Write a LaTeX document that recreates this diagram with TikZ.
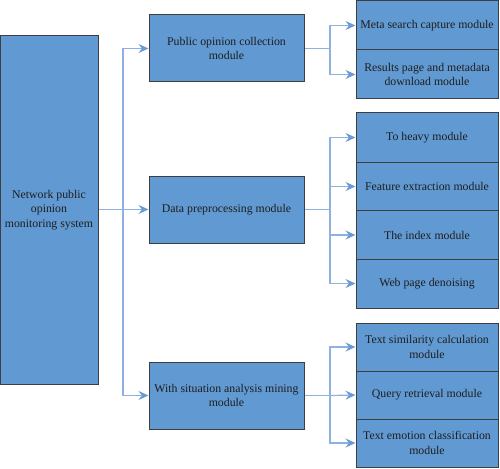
\documentclass[tikz,border=0pt]{standalone}
\usepackage{fontspec}
\setmainfont{Liberation Serif}
\usetikzlibrary{arrows.meta}
\definecolor{boxfill}{HTML}{6199D2}
\definecolor{boxline}{HTML}{3E3E3E}
\definecolor{connline}{HTML}{8EB1E2}
\definecolor{arrowc}{HTML}{6A9BD8}
\definecolor{txt}{HTML}{1E1E1E}
\begin{document}
\begin{tikzpicture}[x=1pt,y=-1pt,
  box/.style={draw=boxline,fill=boxfill,line width=1pt,inner sep=0pt,align=center,
    text=txt,font=\fontsize{11.8}{14.5}\selectfont},
  sysbox/.style={box,minimum width=98pt,minimum height=348pt},
  midbox/.style={box,minimum width=155pt,minimum height=67pt},
  subbox/.style={box,minimum width=142pt,minimum height=49pt},
  conn/.style={draw=connline,line width=1.2pt},
  arr/.style={conn,-{Stealth[length=10pt,width=9pt,inset=3.5pt,color=arrowc]}}]
\useasboundingbox (0,0) rectangle (500,468);
\node[sysbox] (sys) at (49,210) {Network public\\opinion\\monitoring system};
\node[midbox] (m1) at (226.5,48.5) {Public opinion collection\\module};
\node[midbox] (m2) at (226.5,209.5) {Data preprocessing module};
\node[midbox] (m3) at (226.5,395.5) {With situation analysis mining\\module};
\node[subbox] (r11) at (427,25.5) {Meta search capture module};
\node[subbox] (r12) at (427,74.5) {Results page and metadata\\download module};
\node[subbox] (r21) at (427,137.5) {To heavy module};
\node[subbox] (r22) at (427,186.5) {Feature extraction module};
\node[subbox] (r23) at (427,235) {The index module};
\node[subbox] (r24) at (427,283.5) {Web page denoising};
\node[subbox,minimum height=48pt] (r31) at (427,347) {Text similarity calculation\\module};
\node[subbox,minimum height=48pt] (r32) at (427,395) {Query retrieval module};
\node[subbox,minimum height=48pt] (r33) at (427,443) {Text emotion classification\\module};
\coordinate (j0) at (123,210);
\coordinate (j1) at (330,48.5);
\coordinate (j2) at (330,209.5);
\coordinate (j3) at (330,395.5);
\draw[arr] (sys.east |- m2.west) -- (m2.west);
\draw[arr] (j0) |- (m1.west);
\draw[arr] (j0) |- (m3.west);
\draw[conn] (m1.east) -- (j1);
\draw[conn] (m2.east) -- (j2);
\draw[conn] (m3.east) -- (j3);
\draw[arr] (j1) |- (r11.west);
\draw[arr] (j1) |- (r12.west);
\draw[arr] (j2) |- (r21.west);
\draw[arr] (j2) |- (r22.west);
\draw[arr] (j2) |- (r23.west);
\draw[arr] (j2) |- (r24.west);
\draw[arr] (j3) |- (r31.west);
\draw[arr] (j3) -- (r32.west);
\draw[arr] (j3) |- (r33.west);
\end{tikzpicture}
\end{document}
